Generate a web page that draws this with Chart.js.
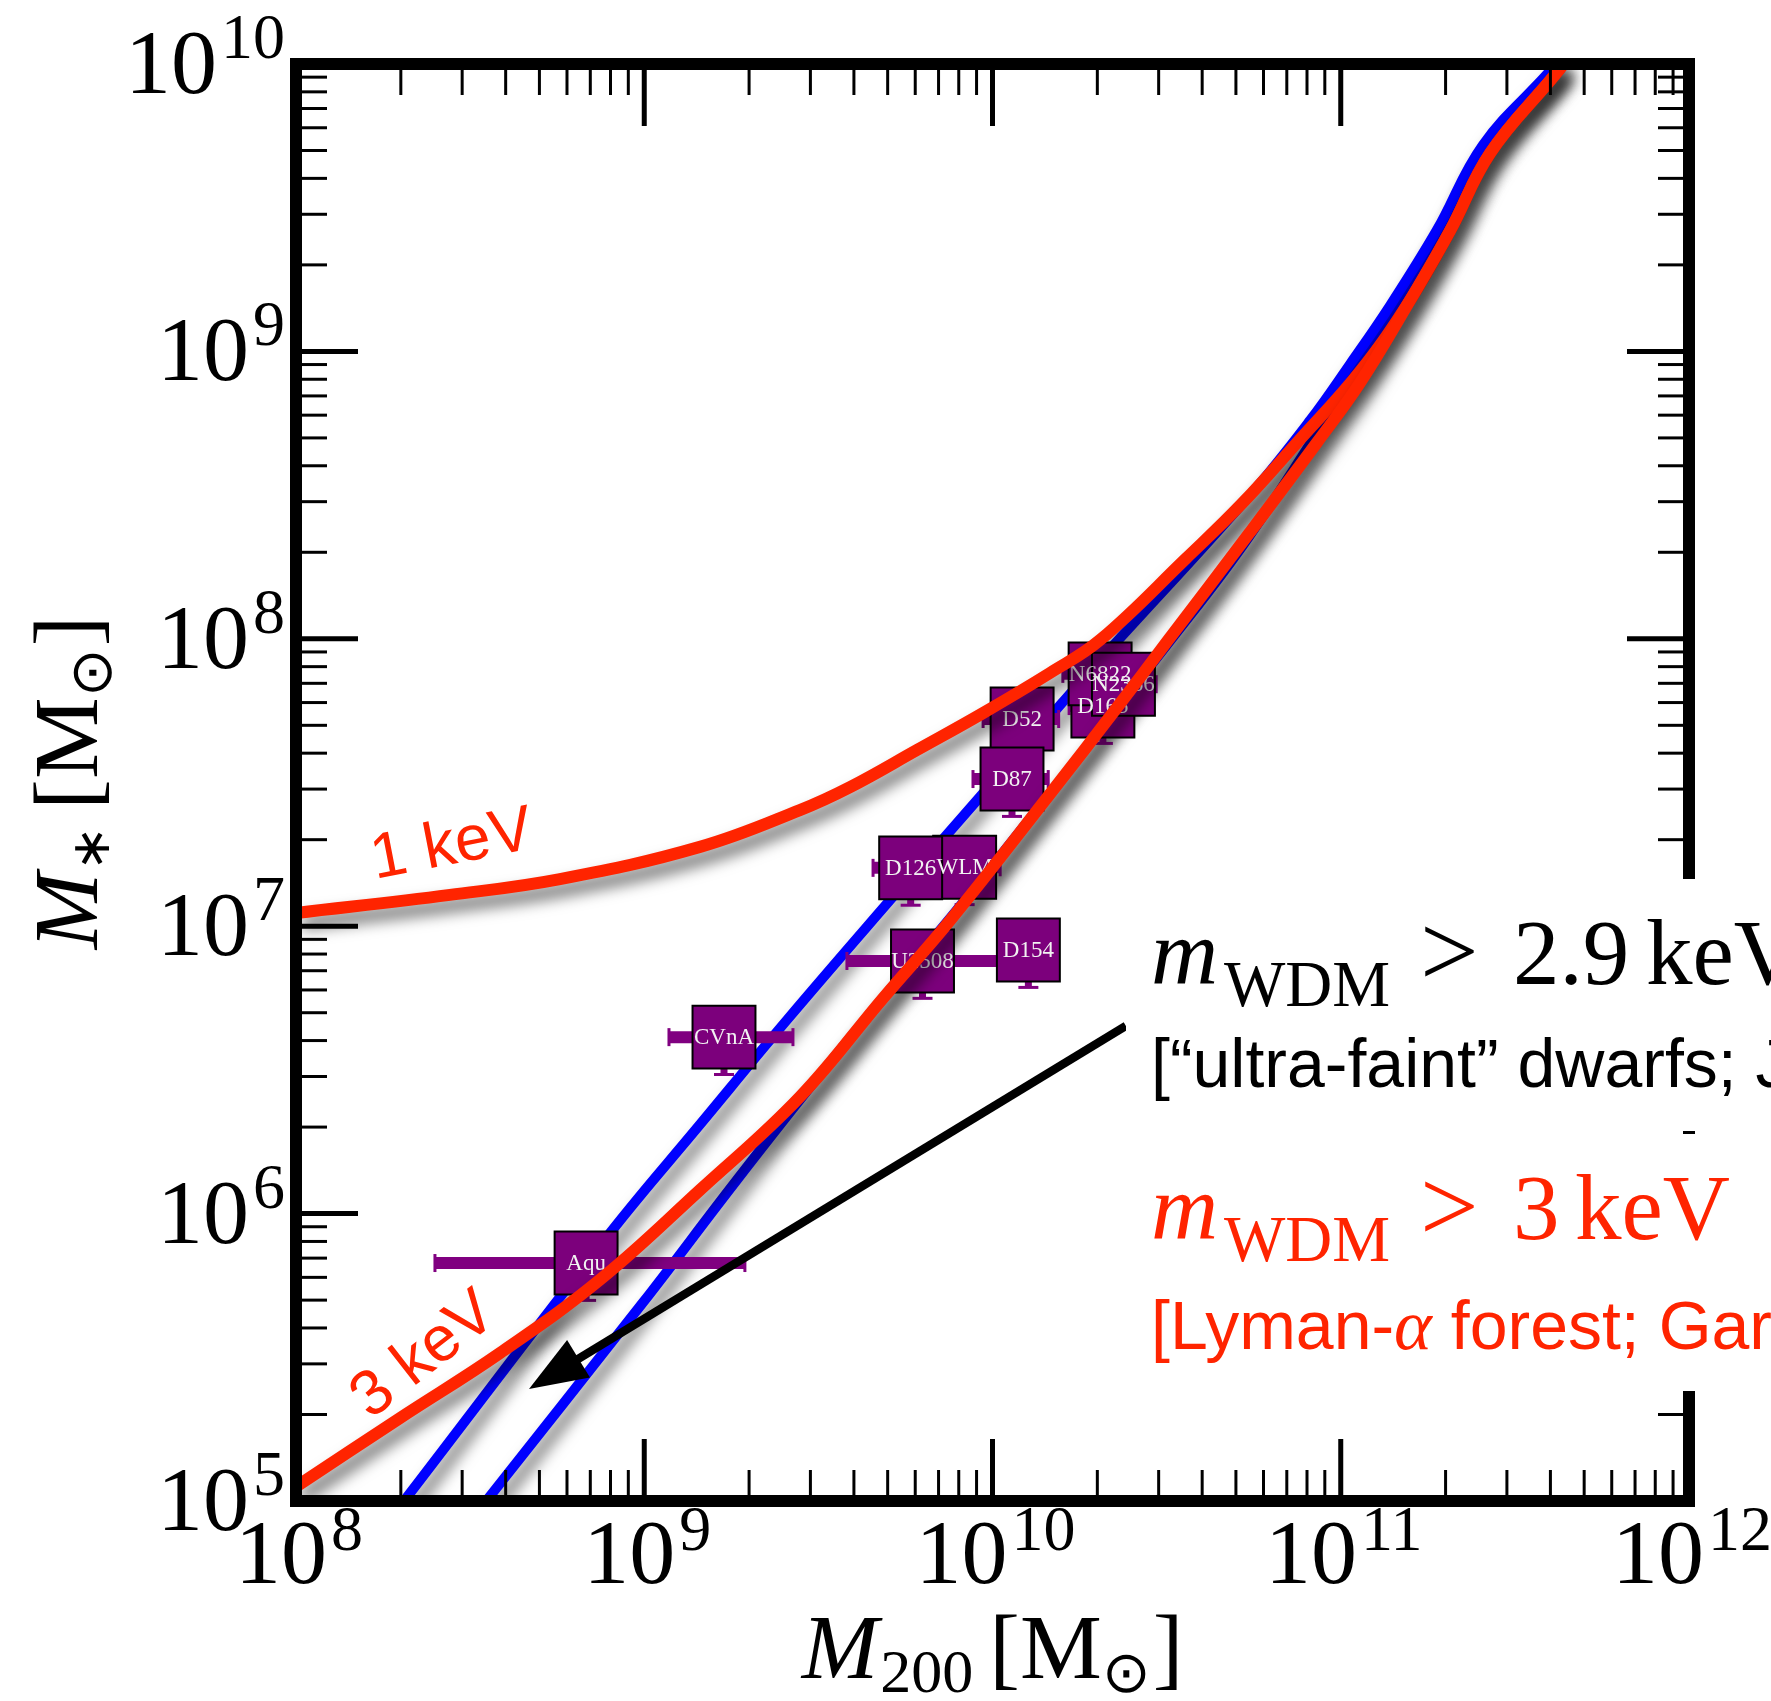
<!DOCTYPE html>
<html>
<head>
<meta charset="utf-8">
<script src="https://cdn.jsdelivr.net/npm/chart.js@4.4.1/dist/chart.umd.min.js"></script>
<style>
   html, body { margin: 0; padding: 0; background: #fff; }
   #wrap { width: 1771px; height: 1701px; }
</style>
</head>
<body>
<div id="wrap"><canvas id="massChart" width="1771" height="1701"></canvas></div>
<script>
/* -----------------------------------------------------------------------
   axis ticks
   ------------------------------------------------------------------------*/
const xMajorTicks = [1e8, 1e9, 1e10, 1e11, 1e12];
const xTickExp = ['8', '9', '10', '11', '12'];
const yMajorTicks = [1e5, 1e6, 1e7, 1e8, 1e9, 1e10];
const yTickExp = ['5', '6', '7', '8', '9', '10'];

/* -----------------------------------------------------------------------
   curves (log10 M200 , log10 M*)
   ------------------------------------------------------------------------*/
// abundance matching, blue (two lines)
const blueA_logM200 = [8.31, 8.902, 9.16, 9.41, 9.706, 9.964, 10.202, 10.317, 10.739, 10.912, 11.027, 11.141, 11.276, 11.408, 11.601, 11.62];
const blueA_logMstar = [5.0, 5.933, 6.31, 6.674, 7.091, 7.45, 7.78, 7.937, 8.50, 8.76, 8.956, 9.158, 9.422, 9.718, 9.976, 10.01];
const blueB_logM200 = [8.546, 8.996, 9.255, 9.476, 9.706, 9.927, 10.508, 10.739, 11.027, 11.141, 11.276, 11.408, 11.601, 11.625];
const blueB_logMstar = [5.0, 5.69, 6.10, 6.44, 6.78, 7.10, 7.99, 8.36, 8.90, 9.13, 9.41, 9.70, 9.96, 10.01];

// WDM 1 keV, red
const red1_logM200 = [8.0, 8.442, 8.758, 9.16, 9.447, 9.591, 9.783, 9.973, 10.165, 10.309, 10.556, 10.716, 10.88, 11.055, 11.2, 11.314, 11.429, 11.61, 11.64];
const red1_logMstar = [7.046, 7.109, 7.164, 7.276, 7.404, 7.484, 7.613, 7.742, 7.881, 7.996, 8.28, 8.47, 8.69, 8.93, 9.18, 9.42, 9.69, 9.955, 10.0];

// WDM 3 keV, red
const red3_logM200 = [8.0, 8.299, 8.586, 8.873, 9.16, 9.447, 9.686, 9.878, 10.165, 10.357, 10.501, 10.739, 10.93, 11.055, 11.2, 11.314, 11.429, 11.61, 11.64];
const red3_logMstar = [5.05, 5.289, 5.515, 5.77, 6.082, 6.406, 6.75, 7.02, 7.46, 7.76, 7.99, 8.37, 8.68, 8.89, 9.18, 9.42, 9.69, 9.955, 10.0];

/* -----------------------------------------------------------------------
   dwarfs (boxes + error bars), log10 values
   ------------------------------------------------------------------------*/
const dwarfNames = ['Aqu', 'CVnA', 'U2508', 'D154', 'WLM', 'D126', 'D52', 'D87', 'D165', 'N6822', 'N2366'];
const dwarfLogM200 = [8.833, 9.229, 9.799, 10.103, 9.920, 9.765, 10.085, 10.056, 10.317, 10.309, 10.376];
const dwarfLogMstar = [5.828, 6.614, 6.879, 6.917, 7.205, 7.203, 7.721, 7.512, 7.766, 7.878, 7.842];
const dwarfM200Lo = [8.399, 9.071, 9.582, 10.06, 9.82, 9.657, 9.973, 9.944, 10.22, 10.202, 10.28];
const dwarfM200Hi = [9.289, 9.427, 10.02, 10.15, 10.022, 9.87, 10.19, 10.16, 10.42, 10.42, 10.47];
const dwarfMstarLo = [5.698, 6.484, 6.749, 6.787, 7.075, 7.073, 7.591, 7.382, 7.636, 7.748, 7.712];
const dwarfMstarHi = [5.918, 6.704, 6.969, 7.007, 7.295, 7.293, 7.811, 7.602, 7.856, 7.968, 7.932];

// arrow (tail -> head), log10 M200 / log10 M*
const arrowTail = [10.383, 6.653];
const arrowHead = [8.669, 5.390];

/* -----------------------------------------------------------------------
   style
   ------------------------------------------------------------------------*/
const RED = '#ff2400';
const BLUE = '#0000ff';
const PURPLE = '#800080';
const SERIF = '"Liberation Serif", "Times New Roman", serif';
const SANS = '"Liberation Sans", Arial, sans-serif';

const toXY = function(xs, ys) {
   return xs.map(function(v, i) { return {x: Math.pow(10, v), y: Math.pow(10, ys[i])}; });
};
const px = function(scale, logv) { return scale.getPixelForValue(Math.pow(10, logv)); };

function seg(ctx, x0, y0, x1, y1) {
   ctx.beginPath(); ctx.moveTo(x0, y0); ctx.lineTo(x1, y1); ctx.stroke();
}

function withMinors(majors) {
   const out = [];
   majors.forEach(function(m, i) {
      out.push({value: m, major: true});
      if (i < majors.length - 1) {
         for (let k = 2; k <= 9; k++) out.push({value: k * m, major: false});
      }
   });
   return out;
}

// draw a list of text runs starting at x on baseline y
function drawRuns(ctx, runs, x, y) {
   runs.forEach(function(r) {
      ctx.font = r.font;
      x += (r.gap || 0);
      ctx.fillText(r.t, x, y + (r.dy || 0));
      x += ctx.measureText(r.t).width;
   });
   return x;
}
function runsWidth(ctx, runs) {
   let w = 0;
   runs.forEach(function(r) { ctx.font = r.font; w += (r.gap || 0) + ctx.measureText(r.t).width; });
   return w;
}

/* -----------------------------------------------------------------------
   error bars under boxes, labels on boxes
   ------------------------------------------------------------------------*/
function drawErrorBars(chart) {
   const ctx = chart.ctx, x = chart.scales.x, y = chart.scales.y;
   ctx.save();
   ctx.strokeStyle = PURPLE;
   dwarfNames.forEach(function(name, i) {
      const cx = px(x, dwarfLogM200[i]), cy = px(y, dwarfLogMstar[i]);
      const x0 = px(x, dwarfM200Lo[i]), x1 = px(x, dwarfM200Hi[i]);
      const y0 = px(y, dwarfMstarLo[i]), y1 = px(y, dwarfMstarHi[i]);
      ctx.lineWidth = 12; seg(ctx, x0, cy, x1, cy);
      ctx.lineWidth = 3; seg(ctx, x0, cy - 9, x0, cy + 9); seg(ctx, x1, cy - 9, x1, cy + 9);
      ctx.lineWidth = 7; seg(ctx, cx, y0, cx, y1);
      ctx.lineWidth = 3; seg(ctx, cx - 10, y0, cx + 10, y0); seg(ctx, cx - 10, y1, cx + 10, y1);
   });
   ctx.restore();
}

function drawBoxLabels(chart, index) {
   const ctx = chart.ctx;
   const meta = chart.getDatasetMeta(index);
   ctx.save();
   ctx.fillStyle = '#f2f2f2';
   ctx.font = '23px ' + SERIF;
   ctx.textAlign = 'center';
   ctx.textBaseline = 'middle';
   meta.data.forEach(function(pt, i) {
      ctx.fillText(dwarfNames[i], pt.x, pt.y + 1);
   });
   ctx.restore();
}

/* -----------------------------------------------------------------------
   frame, ticks, tick labels
   ------------------------------------------------------------------------*/
function drawFrame(chart) {
   const ctx = chart.ctx, a = chart.chartArea, x = chart.scales.x, y = chart.scales.y;
   ctx.save();
   ctx.strokeStyle = '#000';
   ctx.lineCap = 'butt';
   withMinors(xMajorTicks).forEach(function(t) {
      const p = x.getPixelForValue(t.value);
      const len = t.major ? 62 : 31;
      ctx.lineWidth = t.major ? 5 : 3;
      seg(ctx, p, a.bottom, p, a.bottom - len);
      seg(ctx, p, a.top, p, a.top + len);
   });
   withMinors(yMajorTicks).forEach(function(t) {
      const p = y.getPixelForValue(t.value);
      const len = t.major ? 62 : 31;
      ctx.lineWidth = t.major ? 5 : 3;
      seg(ctx, a.left, p, a.left + len, p);
      seg(ctx, a.right, p, a.right - len, p);
   });
   ctx.lineWidth = 12;
   ctx.lineJoin = 'miter';
   ctx.strokeRect(a.left, a.top, a.right - a.left, a.bottom - a.top);

   // tick labels 10^n
   ctx.fillStyle = '#000';
   ctx.textBaseline = 'alphabetic';
   const big = '92px ' + SERIF, sup = '64px ' + SERIF;
   xMajorTicks.forEach(function(v, i) {
      const runs = [{t: '10', font: big}, {t: xTickExp[i], font: sup, gap: 4, dy: -33}];
      const w = runsWidth(ctx, runs);
      drawRuns(ctx, runs, x.getPixelForValue(v) + 3 - w / 2, a.bottom + 82);
   });
   yMajorTicks.forEach(function(v, i) {
      const runs = [{t: '10', font: big}, {t: yTickExp[i], font: sup, gap: 4, dy: -35}];
      const w = runsWidth(ctx, runs);
      drawRuns(ctx, runs, 285 - w, y.getPixelForValue(v) + 29);
   });
   ctx.restore();
}

/* -----------------------------------------------------------------------
   axis titles
   ------------------------------------------------------------------------*/
function drawAxisTitles(chart) {
   const ctx = chart.ctx, a = chart.chartArea;
   ctx.save();
   ctx.fillStyle = '#000';
   const it = 'italic 92px ' + SERIF, rm = '92px ' + SERIF, sub = '62px ' + SERIF;
   const xRuns = [
      {t: 'M', font: it}, {t: '200', font: sub, dy: 14, gap: 2},
      {t: '[M', font: rm, gap: 16}, {t: '⊙', font: '58px ' + SERIF, dy: 14}, {t: ']', font: rm, gap: 2}
   ];
   const xw = runsWidth(ctx, xRuns);
   drawRuns(ctx, xRuns, (a.left + a.right) / 2 - xw / 2, 1678);

   const yRuns = [
      {t: 'M', font: it}, {t: '∗', font: '54px ' + SERIF, dy: 12, gap: 2},
      {t: '[M', font: rm, gap: 16}, {t: '⊙', font: '58px ' + SERIF, dy: 14}, {t: ']', font: rm, gap: 2}
   ];
   const yw = runsWidth(ctx, yRuns);
   ctx.translate(97, (a.top + a.bottom) / 2);
   ctx.rotate(-Math.PI / 2);
   drawRuns(ctx, yRuns, -yw / 2, 0);
   ctx.restore();
}

/* -----------------------------------------------------------------------
   arrow + text panel on the right
   ------------------------------------------------------------------------*/
function drawArrow(chart) {
   const ctx = chart.ctx, x = chart.scales.x, y = chart.scales.y;
   const x0 = px(x, arrowTail[0]), y0 = px(y, arrowTail[1]);
   const x1 = px(x, arrowHead[0]), y1 = px(y, arrowHead[1]);
   const ang = Math.atan2(y1 - y0, x1 - x0);
   const headLen = 58, headHalf = 22;
   const bx = x1 - headLen * Math.cos(ang), by = y1 - headLen * Math.sin(ang);
   ctx.save();
   ctx.strokeStyle = '#000'; ctx.fillStyle = '#000';
   ctx.lineWidth = 8.5;
   seg(ctx, x0, y0, bx + 8 * Math.cos(ang), by + 8 * Math.sin(ang));
   ctx.beginPath();
   ctx.moveTo(x1, y1);
   ctx.lineTo(bx + headHalf * Math.sin(ang), by - headHalf * Math.cos(ang));
   ctx.lineTo(bx - headHalf * Math.sin(ang), by + headHalf * Math.cos(ang));
   ctx.closePath();
   ctx.fill();
   ctx.restore();
}

function drawTextPanel(chart) {
   const ctx = chart.ctx;
   ctx.save();
   ctx.fillStyle = '#fff';
   ctx.fillRect(1126, 879, 700, 252);
   ctx.fillRect(1126, 1134, 700, 257);

   const mIt = 'italic 93px ' + SERIF, rm = '93px ' + SERIF, sub = '65px ' + SERIF;
   const gt = '104px ' + SERIF;
   const sans = '68px ' + SANS;

   // m_WDM > 2.9 keV
   ctx.fillStyle = '#000';
   ctx.font = mIt; ctx.fillText('m', 1151, 984);
   ctx.font = sub; ctx.fillText('WDM', 1224, 1006);
   ctx.font = gt; ctx.fillText('>', 1420, 986);
   ctx.font = rm;
   ctx.fillText('2.9', 1513, 984);
   ctx.fillText('keV', 1646, 984);
   ctx.font = sans; ctx.fillText('[“ultra-faint” dwarfs; J', 1151, 1087);

   // m_WDM > 3 keV
   ctx.fillStyle = RED;
   ctx.font = mIt; ctx.fillText('m', 1151, 1239);
   ctx.font = sub; ctx.fillText('WDM', 1224, 1261);
   ctx.font = gt; ctx.fillText('>', 1420, 1241);
   ctx.font = rm;
   ctx.fillText('3', 1513, 1239);
   ctx.fillText('keV', 1575, 1239);
   drawRuns(ctx, [
      {t: '[Lyman-', font: sans},
      {t: 'α', font: 'italic 72px ' + SERIF},
      {t: ' forest; Gar', font: sans}
   ], 1151, 1349);

   // curve labels
   ctx.font = '64px ' + SANS;
   ctx.textAlign = 'center';
   ctx.textBaseline = 'middle';
   [['1 keV', 452, 846, -11], ['3 keV', 424, 1356, -38]].forEach(function(l) {
      ctx.save();
      ctx.translate(l[1], l[2]);
      ctx.rotate(l[3] * Math.PI / 180);
      ctx.fillText(l[0], 0, 0);
      ctx.restore();
   });
   ctx.restore();
}

/* -----------------------------------------------------------------------
   plugin: shadows, error bars, overlays
   ------------------------------------------------------------------------*/
const overlayPlugin = {
   id: 'overlayPlugin',
   beforeDatasetDraw: function(chart, args) {
      const ds = chart.data.datasets[args.index];
      const ctx = chart.ctx;
      if (ds.isDwarfs) drawErrorBars(chart);
      ctx.save();
      if (ds.dropShadow) {
         ctx.shadowColor = 'rgba(0,0,0,0.6)';
         ctx.shadowBlur = 15;
         ctx.shadowOffsetX = 6;
         ctx.shadowOffsetY = 10;
      }
   },
   afterDatasetDraw: function(chart, args) {
      const ds = chart.data.datasets[args.index];
      chart.ctx.restore();
      if (ds.isDwarfs) drawBoxLabels(chart, args.index);
   },
   afterDatasetsDraw: function(chart) {
      drawFrame(chart);
      drawArrow(chart);
      drawTextPanel(chart);
      drawAxisTitles(chart);
   }
};

/* -----------------------------------------------------------------------
   chart
   ------------------------------------------------------------------------*/
const lineSet = function(label, data, color, width, order) {
   return {
      label: label,
      data: data,
      showLine: true,
      borderColor: color,
      borderWidth: width,
      pointRadius: 0,
      tension: 0.4,
      borderCapStyle: 'butt',
      borderJoinStyle: 'round',
      dropShadow: true,
      order: order
   };
};

const config = {
   type: 'scatter',
   data: {
      datasets: [
         lineSet('3 keV', toXY(red3_logM200, red3_logMstar), RED, 12, 0),
         lineSet('1 keV', toXY(red1_logM200, red1_logMstar), RED, 12, 0),
         {
            label: 'dwarfs',
            data: toXY(dwarfLogM200, dwarfLogMstar),
            pointStyle: 'rect',
            pointRadius: 44.5,
            backgroundColor: '#7c007c',
            borderColor: '#000',
            borderWidth: 2,
            isDwarfs: true,
            order: 1
         },
         lineSet('AM a', toXY(blueA_logM200, blueA_logMstar), BLUE, 10, 2),
         lineSet('AM b', toXY(blueB_logM200, blueB_logMstar), BLUE, 10, 2)
      ]
   },
   options: {
      responsive: false,
      animation: false,
      devicePixelRatio: 1,
      events: [],
      layout: { padding: { left: 296, right: 82, top: 64, bottom: 200 } },
      plugins: { legend: { display: false }, tooltip: { enabled: false } },
      scales: {
         x: { type: 'logarithmic', min: 1e8, max: 1e12, display: false },
         y: { type: 'logarithmic', min: 1e5, max: 1e10, display: false }
      }
   },
   plugins: [overlayPlugin]
};

const massChart = new Chart(document.getElementById('massChart'), config);
</script>
</body>
</html>
